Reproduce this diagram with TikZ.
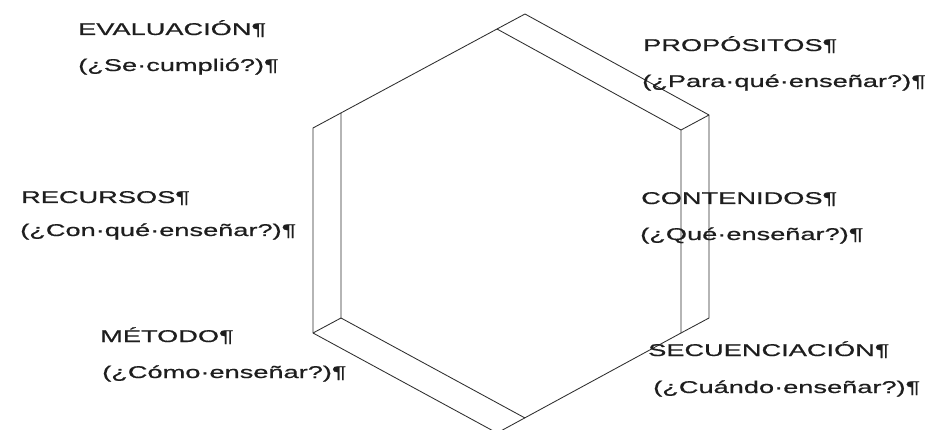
\documentclass[tikz,border=0pt]{standalone}
\usepackage{fontspec}
\newfontfamily\labfont[FakeStretch=1.6,FakeBold=0.7]{Liberation Sans}
\definecolor{inkc}{HTML}{1E1E1E}
\definecolor{edgec}{HTML}{2E2E2E}
\begin{document}
\begin{tikzpicture}[x=1pt,y=-1pt,
  lab/.style={anchor=base west,inner sep=0pt,text=inkc,font=\labfont\fontsize{17}{20}\selectfont},
  edge/.style={draw=edgec,line width=0.85pt,line join=miter}]
\useasboundingbox (0,0) rectangle (929,430);
\fill[white] (0,0) rectangle (929,430);
\clip (0,0) rectangle (929,430);
% front hexagon
\coordinate (A) at (497,29);
\coordinate (B) at (681,130);
\coordinate (C) at (681,333);
\coordinate (D) at (497,433);
\coordinate (E) at (313,333);
\coordinate (F) at (313,128);
% back hexagon (depth offset)
\coordinate (A2) at (525,14);
\coordinate (B2) at (709,115);
\coordinate (C2) at (709,318);
\coordinate (D2) at (525,418);
\coordinate (E2) at (341,318);
\coordinate (F2) at (341,113);
\draw[edge] (A) -- (B) -- (C) -- (D) -- (E) -- (F) -- cycle;
\draw[edge] (A) -- (A2) -- (B2) -- (C2) -- (C);
\draw[edge] (B) -- (B2);
\draw[edge] (D2) -- (E2) -- (F2);
\draw[edge] (E) -- (E2);
% labels
\node[lab] (eval) at (78,35) {EVALUACIÓN¶};
\node[lab] (evalq) at (78,71) {(¿Se·cumplió?)¶};
\node[lab] (prop) at (643,51) {PROPÓSITOS¶};
\node[lab] (propq) at (642,87) {(¿Para·qué·enseñar?)¶};
\node[lab] (recu) at (21,203) {RECURSOS¶};
\node[lab] (recuq) at (20,236) {(¿Con·qué·enseñar?)¶};
\node[lab] (cont) at (641,204) {CONTENIDOS¶};
\node[lab] (contq) at (640,240) {(¿Qué·enseñar?)¶};
\node[lab] (meto) at (100,342) {MÉTODO¶};
\node[lab] (metoq) at (102,378) {(¿Cómo·enseñar?)¶};
\node[lab] (secu) at (648,356) {SECUENCIACIÓN¶};
\node[lab] (secuq) at (653,393) {(¿Cuándo·enseñar?)¶};
\end{tikzpicture}
\end{document}
